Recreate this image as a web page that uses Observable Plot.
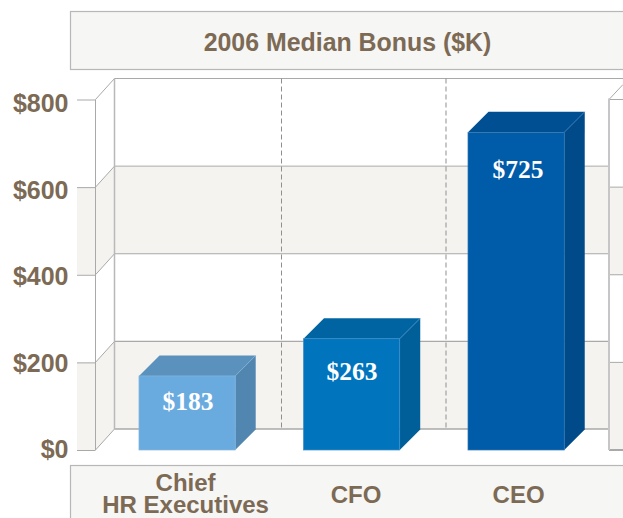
<!DOCTYPE html>
<html>
<head>
<meta charset="utf-8">
<style>html,body{margin:0;padding:0;background:#fff}svg{display:block}</style>
<script src="https://cdn.jsdelivr.net/npm/d3@7"></script>
<script src="https://cdn.jsdelivr.net/npm/@observablehq/plot@0.6"></script>
</head>
<body>
<script>
// Data
const categories = ["Chief\nHR Executives", "CFO", "CEO"];
const drawnHeights = [169, 254, 725];   // bar heights as drawn in the picture
const valueLabels = ["$183", "$263", "$725"];
const yTicks = [0, 200, 400, 600, 800];
const title = "2006 Median Bonus ($K)";

// Styles and layout
const frontColors = ["#6aabdf", "#0075be", "#005ca8"];
const topColors = ["#5b92bd", "#0064a2", "#004f92"];
const sideColors = ["#5086b0", "#005f99", "#004a8a"];
const edgeColors = ["#84b6dc", "#3c8dc6", "#2f76b3"];
const labelDrop = [25.5, 32.5, 37];
const labelNudge = [0.5, 0, 1.5];
const catNudge = [-2, 4, 2];
const catDrop = [44, 45, 45];
const tickNudge = [-1, 1, 2, 3, 3.5];
const brown = "#7c6a55", wallLine = "#a9a9a9", band = "#f4f3f0", boxFill = "#f6f6f4", boxLine = "#b7b7b7";
const W = 623, H = 518, wallX = 95.5, depthX = 19, depthY = 21, barDepth = 20.5;
const dashXs = [281.5, 446], nextWallX = 609;

const svgEl = (name, attrs, parent) => {
  const e = document.createElementNS("http://www.w3.org/2000/svg", name);
  for (const k in attrs) e.setAttribute(k, attrs[k]);
  parent.appendChild(e);
  return e;
};
const newGroup = () => document.createElementNS("http://www.w3.org/2000/svg", "g");

// walls, bands, gridlines, boxes
const walls = (index, {y}) => {
  const g = newGroup();
  const backX = wallX + depthX;
  const poly = (pts, fill) => svgEl("polygon", {points: pts.map(p => p.join(",")).join(" "), fill}, g);
  const line = (x1, y1, x2, y2, stroke, w, dash) => svgEl("line", {x1, y1, x2, y2, stroke, "stroke-width": w, ...(dash ? {"stroke-dasharray": dash} : {})}, g);
  for (const [lo, hi] of [[0, 200], [400, 600]]) {
    const y0 = y(lo), y1 = y(hi);
    poly([[77, y1], [wallX, y1], [wallX, y0], [77, y0]], band);
    poly([[wallX, y1], [backX, y1 - depthY], [backX, y0 - depthY], [wallX, y0]], band);
    poly([[backX, y1 - depthY], [nextWallX, y1 - depthY], [nextWallX, y0 - depthY], [backX, y0 - depthY]], band);
    poly([[nextWallX, y1], [W, y1], [W, y0], [nextWallX, y0]], band);
  }
  for (const t of yTicks) {
    const yy = y(t);
    line(wallX, yy, backX, yy - depthY, wallLine, 1);
    line(backX, yy - depthY, t === 800 ? W : nextWallX, yy - depthY, wallLine, t === 0 || t === 200 ? 1.3 : 1);
    line(nextWallX, yy, W, yy, wallLine, t === 0 ? 2 : 1);
  }
  line(nextWallX, y(800), nextWallX + 14, y(800) - 15, wallLine, 1);
  line(wallX, y(800), wallX, y(0), wallLine, 1);
  line(backX, y(800) - depthY, backX, y(0) - depthY, "#b9b9b9", 1.5);
  line(nextWallX, y(800) - 1, nextWallX, y(0), "#c6c6c6", 2);
  for (const dx of dashXs) line(dx, y(800) - depthY, dx, y(0) - depthY, "#8f8f8f", 1, "5 3");
  svgEl("rect", {x: 70.5, y: 11.5, width: W, height: 58, fill: boxFill, stroke: boxLine, "stroke-width": 1.2}, g);
  svgEl("rect", {x: 70.5, y: 465.5, width: W, height: 80, fill: boxFill, stroke: boxLine, "stroke-width": 1.2}, g);
  return g;
};

// side and top faces of each bar, placed from the scales
const rows = categories.map((c, i) => ({c, h: drawnHeights[i], i}));
const faces = (index, {x, y}) => {
  const g = newGroup();
  const bw = x.bandwidth();
  const poly = (pts, fill) => svgEl("polygon", {points: pts.map(p => p.join(",")).join(" "), fill}, g);
  rows.forEach(r => {
    const x0 = x(r.c), x1 = x0 + bw, t = y(r.h), b = y(0), d = barDepth;
    poly([[x0, t], [x0 + d, t - d], [x1 + d, t - d], [x1, t]], topColors[r.i]);
    poly([[x1, t], [x1 + d, t - d], [x1 + d, b - d], [x1, b]], sideColors[r.i]);
    svgEl("line", {x1, y1: t, x2: x1 + d, y2: t - d, stroke: edgeColors[r.i], "stroke-width": 0.6}, g);
  });
  return g;
};

const chart = Plot.plot({
  width: W,
  height: H,
  marginLeft: 0, marginRight: 0, marginTop: 0, marginBottom: 0,
  style: {background: "#fff", overflow: "hidden"},
  x: {type: "band", domain: categories, range: [70.7, 632.5], padding: 0.415, align: 0.5, round: false, axis: null},
  y: {domain: [0, 800], range: [450, 99.5], axis: null},
  marks: [
    walls,
    faces,
    Plot.barY(rows, {x: "c", y: "h", fill: d => frontColors[d.i], stroke: d => edgeColors[d.i], strokeWidth: 0.7}),
    Plot.axisY({
      ticks: yTicks, anchor: "left", insetLeft: wallX, tickSize: 18.5,
      tickFormat: () => "", label: null, stroke: wallLine
    }),
    ...yTicks.map((t, i) => Plot.text([t], {
      y: d => d, text: d => "$" + d, frameAnchor: "left", dx: 68, dy: tickNudge[i], textAnchor: "end", lineAnchor: "middle",
      fill: brown, fontFamily: "Liberation Sans", fontWeight: "bold", fontSize: 25
    })),
    ...rows.map(r => Plot.text([r], {
      x: "c", y: "h", text: () => valueLabels[r.i], dy: labelDrop[r.i], dx: labelNudge[r.i],
      fill: "#fff", fontFamily: "Liberation Serif", fontWeight: "bold", fontSize: 25.5, textAnchor: "middle"
    })),
    ...rows.map(r => Plot.text([r], {
      x: "c", y: () => 0, text: "c", dx: catNudge[r.i], dy: catDrop[r.i],
      fill: brown, fontFamily: "Liberation Sans", fontWeight: "bold", fontSize: 24, lineHeight: 0.92, lineAnchor: "middle", textAnchor: "middle"
    })),
    Plot.text([title], {
      frameAnchor: "top-left", dx: 347, dy: 42.5, text: d => d, fill: brown,
      fontFamily: "Liberation Sans", fontWeight: "bold", fontSize: 24.9, lineAnchor: "middle", textAnchor: "middle"
    })
  ]
});
document.body.appendChild(chart);
</script>
</body>
</html>
